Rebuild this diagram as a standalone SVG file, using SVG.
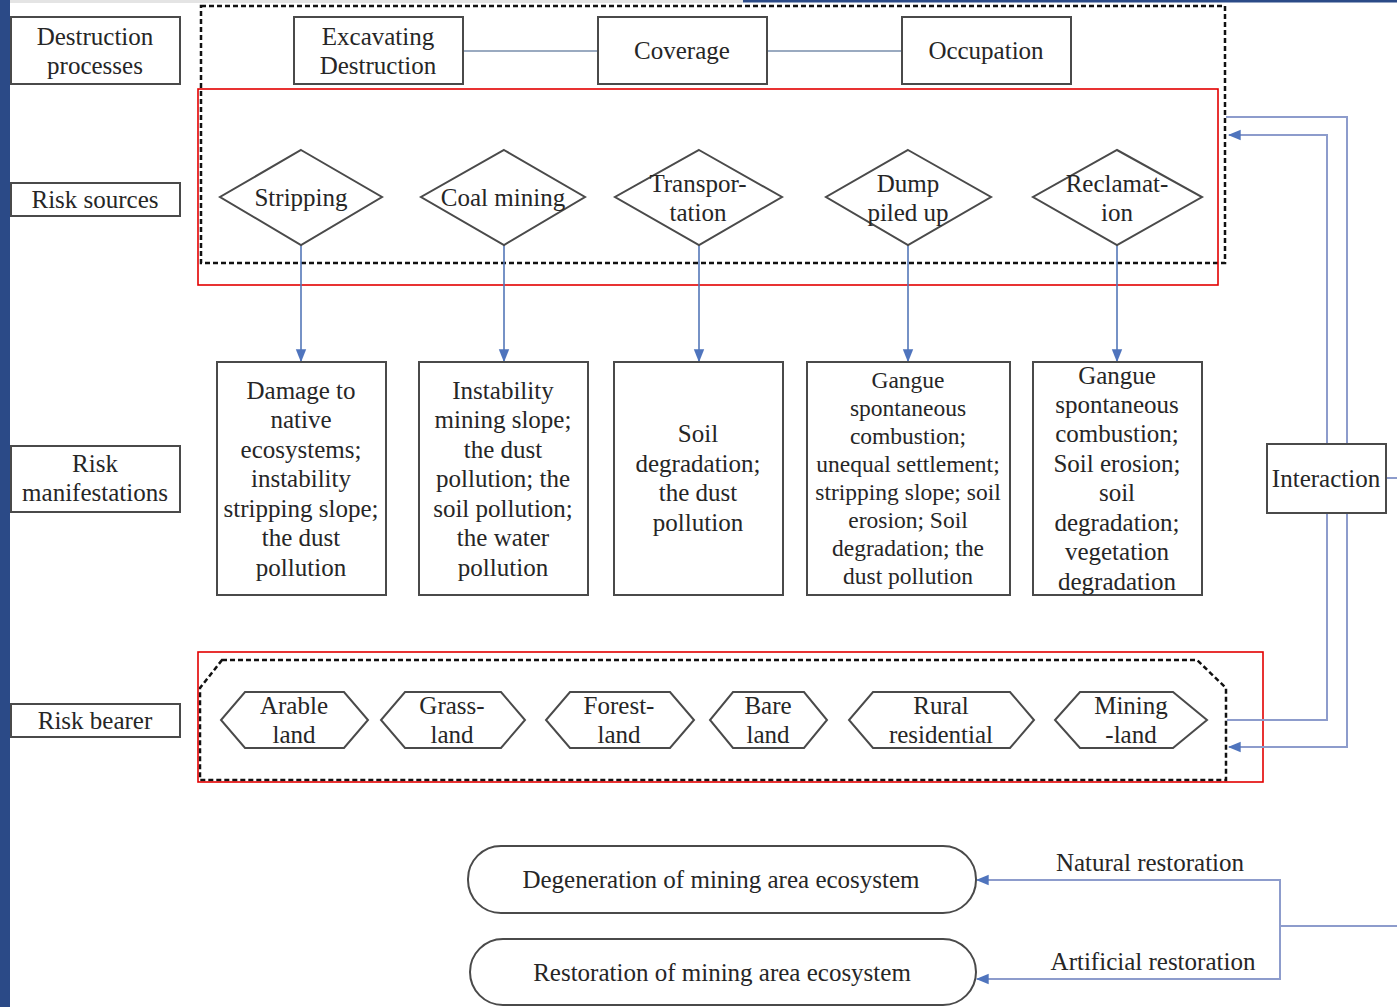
<svg xmlns="http://www.w3.org/2000/svg" width="1397" height="1007" viewBox="0 0 1397 1007">
<style>
.t{font-family:"Liberation Serif","Times New Roman",serif;font-size:25px;fill:#262626;text-anchor:middle;dominant-baseline:central}
.s{font-size:23.5px}
.box{fill:#fff;stroke:#4a4a4a;stroke-width:2}
.dash{fill:none;stroke:#111;stroke-width:2.5;stroke-dasharray:5 3}
.red{fill:none;stroke:#e30000;stroke-width:1.6}
.arr{fill:none;stroke:#5477b8;stroke-width:1.6}
.lnk{fill:none;stroke:#9aaac0;stroke-width:2}
.fb{fill:none;stroke:#8d9ccc;stroke-width:2}
</style>
<defs>
<marker id="ah2" viewBox="0 0 10 10" refX="9" refY="5" markerWidth="13" markerHeight="13" orient="auto" markerUnits="userSpaceOnUse">
<path d="M0,1 L10,5 L0,9 z" fill="#4f74bd"/>
</marker>
</defs>
<rect width="1397" height="1007" fill="#fff"/>
<rect x="0" y="0" width="10" height="1007" fill="#2b4a87"/>
<rect x="743" y="0" width="654" height="2.5" fill="#2b4a87"/>
<rect x="10" y="0" width="733" height="3" fill="#e4e4e4"/>

<g id="frames">
<rect class="dash" x="201" y="6" width="1024" height="257"/>
<rect class="red" x="198" y="89" width="1020" height="196"/>
<path class="dash" d="M222,660 L1197,660 L1226,688 L1226,780 L200,780 L200,688 Z"/>
<rect class="red" x="198" y="652" width="1065" height="130"/>
</g>

<g id="connectors">
<line class="lnk" x1="463" y1="51" x2="598" y2="51"/>
<line class="lnk" x1="767" y1="51" x2="902" y2="51"/>
<line class="arr" x1="301" y1="245" x2="301" y2="361" marker-end="url(#ah2)"/>
<line class="arr" x1="504" y1="245" x2="504" y2="361" marker-end="url(#ah2)"/>
<line class="arr" x1="699" y1="245" x2="699" y2="361" marker-end="url(#ah2)"/>
<line class="arr" x1="908" y1="245" x2="908" y2="361" marker-end="url(#ah2)"/>
<line class="arr" x1="1117" y1="245" x2="1117" y2="361" marker-end="url(#ah2)"/>
<path class="fb" d="M1227,720 L1327,720 L1327,135 L1229,135" marker-end="url(#ah2)"/>
<path class="fb" d="M1226,117 L1347,117 L1347,747 L1229,747" marker-end="url(#ah2)"/>
<line class="fb" x1="1386" y1="478" x2="1397" y2="478"/>
<path class="fb" d="M1280,880 L977,880" marker-end="url(#ah2)"/>
<path class="fb" d="M1280,979 L977,979" marker-end="url(#ah2)"/>
<line class="fb" x1="1280" y1="879" x2="1280" y2="980"/>
<line class="fb" x1="1280" y1="926" x2="1397" y2="926"/>
</g>

<g id="lbl-destruction"><rect class="box" x="11" y="17" width="169" height="67"/><text class="t" x="95" y="36">Destruction</text><text class="t" x="95" y="65">processes</text></g>
<g id="lbl-sources"><rect class="box" x="11" y="183" width="169" height="33"/><text class="t" x="95" y="199">Risk sources</text></g>
<g id="lbl-manifest"><rect class="box" x="11" y="446" width="169" height="66"/><text class="t" x="95" y="463">Risk</text><text class="t" x="95" y="492">manifestations</text></g>
<g id="lbl-bearer"><rect class="box" x="11" y="704" width="169" height="33"/><text class="t" x="95" y="720">Risk bearer</text></g>

<g id="excavating"><rect class="box" x="294" y="17" width="169" height="67"/><text class="t" x="378" y="36">Excavating</text><text class="t" x="378" y="65">Destruction</text></g>
<g id="coverage"><rect class="box" x="598" y="17" width="169" height="67"/><text class="t" x="682" y="50">Coverage</text></g>
<g id="occupation"><rect class="box" x="902" y="17" width="169" height="67"/><text class="t" x="986" y="50">Occupation</text></g>

<g id="stripping"><polygon class="box" points="301,150 382,197 301,245 220,197"/><text class="t" x="301" y="197">Stripping</text></g>
<g id="coalmining"><polygon class="box" points="504,150 585,197 504,245 421,197"/><text class="t" x="503" y="197">Coal mining</text></g>
<g id="transportation"><polygon class="box" points="699,150 782,197 699,245 615,197"/><text class="t" x="698" y="183">Transpor-</text><text class="t" x="698" y="212">tation</text></g>
<g id="dump"><polygon class="box" points="908,150 991,197 908,245 826,197"/><text class="t" x="908" y="183">Dump</text><text class="t" x="908" y="212">piled up</text></g>
<g id="reclamation"><polygon class="box" points="1117,150 1202,197 1117,245 1033,197"/><text class="t" x="1117" y="183">Reclamat-</text><text class="t" x="1117" y="212">ion</text></g>

<g id="m1"><rect class="box" x="217" y="362" width="169" height="233"/>
<text class="t" x="301" y="390">Damage to</text><text class="t" x="301" y="419">native</text><text class="t" x="301" y="449">ecosystems;</text><text class="t" x="301" y="478">instability</text><text class="t" x="301" y="508">stripping slope;</text><text class="t" x="301" y="537">the dust</text><text class="t" x="301" y="567">pollution</text></g>
<g id="m2"><rect class="box" x="419" y="362" width="169" height="233"/>
<text class="t" x="503" y="390">Instability</text><text class="t" x="503" y="419">mining slope;</text><text class="t" x="503" y="449">the dust</text><text class="t" x="503" y="478">pollution; the</text><text class="t" x="503" y="508">soil pollution;</text><text class="t" x="503" y="537">the water</text><text class="t" x="503" y="567">pollution</text></g>
<g id="m3"><rect class="box" x="614" y="362" width="169" height="233"/>
<text class="t" x="698" y="433">Soil</text><text class="t" x="698" y="463">degradation;</text><text class="t" x="698" y="492">the dust</text><text class="t" x="698" y="522">pollution</text></g>
<g id="m4"><rect class="box" x="807" y="362" width="203" height="233"/>
<text class="t s" x="908" y="380">Gangue</text><text class="t s" x="908" y="408">spontaneous</text><text class="t s" x="908" y="436">combustion;</text><text class="t s" x="908" y="464">unequal settlement;</text><text class="t s" x="908" y="492">stripping slope; soil</text><text class="t s" x="908" y="520">erosion; Soil</text><text class="t s" x="908" y="548">degradation; the</text><text class="t s" x="908" y="576">dust pollution</text></g>
<g id="m5"><rect class="box" x="1033" y="362" width="169" height="233"/>
<text class="t" x="1117" y="375">Gangue</text><text class="t" x="1117" y="404">spontaneous</text><text class="t" x="1117" y="433">combustion;</text><text class="t" x="1117" y="463">Soil erosion;</text><text class="t" x="1117" y="492">soil</text><text class="t" x="1117" y="522">degradation;</text><text class="t" x="1117" y="551">vegetation</text><text class="t" x="1117" y="581">degradation</text></g>

<g id="interaction"><rect class="box" x="1267" y="444" width="119" height="69"/><text class="t" x="1326" y="478">Interaction</text></g>

<g id="arable"><polygon class="box" points="245,692 344,692 368,720 344,748 245,748 221,720"/><text class="t" x="294" y="705">Arable</text><text class="t" x="294" y="734">land</text></g>
<g id="grassland"><polygon class="box" points="405,692 501,692 525,720 501,748 405,748 381,720"/><text class="t" x="452" y="705">Grass-</text><text class="t" x="452" y="734">land</text></g>
<g id="forestland"><polygon class="box" points="570,692 670,692 694,720 670,748 570,748 546,720"/><text class="t" x="619" y="705">Forest-</text><text class="t" x="619" y="734">land</text></g>
<g id="bareland"><polygon class="box" points="733,692 804,692 827,720 804,748 733,748 710,720"/><text class="t" x="768" y="705">Bare</text><text class="t" x="768" y="734">land</text></g>
<g id="rural"><polygon class="box" points="873,692 1010,692 1034,720 1010,748 873,748 849,720"/><text class="t" x="941" y="705">Rural</text><text class="t" x="941" y="734">residential</text></g>
<g id="miningland"><polygon class="box" points="1080,692 1173,692 1207,720 1173,748 1080,748 1055,720"/><text class="t" x="1131" y="705">Mining</text><text class="t" x="1131" y="734">-land</text></g>

<g id="degeneration"><rect class="box" x="468" y="846" width="508" height="67" rx="33" ry="33"/><text class="t" x="721" y="879">Degeneration of mining area ecosystem</text></g>
<g id="restoration"><rect class="box" x="470" y="939" width="506" height="66" rx="33" ry="33"/><text class="t" x="722" y="972">Restoration of mining area ecosystem</text></g>
<g id="edge-labels">
<text class="t" x="1150" y="862">Natural restoration</text>
<text class="t" x="1153" y="961">Artificial restoration</text>
</g>
</svg>
